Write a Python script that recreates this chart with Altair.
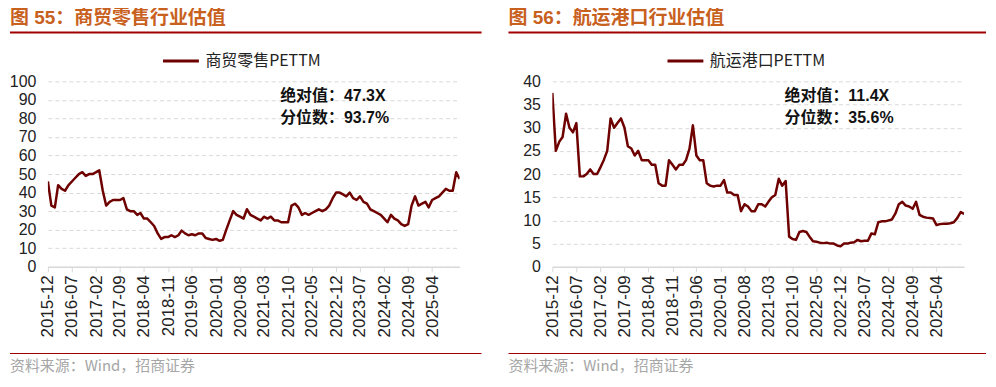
import altair as alt
import pandas as pd

# ---------------- data ----------------
START = "2015-12-01"
tick_labels = ["2015-12", "2016-07", "2017-02", "2017-09", "2018-04", "2018-11",
               "2019-06", "2020-01", "2020-08", "2021-03", "2021-10", "2022-05",
               "2022-12", "2023-07", "2024-02", "2024-09", "2025-04"]

retail_name = "商贸零售PETTM"
retail_values = [46, 33, 32, 44, 42, 41, 44, 46, 48, 50, 51, 49, 50, 50, 51, 52, 41, 33,
                 35, 36, 36, 36, 37, 31, 30, 30, 28, 29, 26, 26, 24, 22, 18, 15, 16, 16,
                 17, 16, 17, 19.5, 18, 17, 17.5, 17, 18, 18, 15.5, 15, 14.5, 15, 14, 14.5,
                 20, 25, 30, 28, 27, 26, 31, 28, 27, 26, 25, 27, 26, 27, 25, 25, 24, 24,
                 24, 33, 34, 32, 28, 29, 28, 29, 30, 31, 30, 31, 33, 37, 40, 40, 39, 38,
                 40, 37, 36, 38, 35, 34, 31, 30, 29, 28, 26, 24, 28, 26, 25, 23, 22, 23,
                 33, 38, 33, 34, 35, 32, 36, 37, 38, 40, 42, 41, 41, 51, 47.3]
retail_abs = "绝对值：47.3X"
retail_pct = "分位数：93.7%"
retail_title = "图 55：商贸零售行业估值"

ship_name = "航运港口PETTM"
ship_values = [37.5, 25, 27, 28, 33, 30, 29, 31, 19.5, 19.5, 20, 21, 20, 20, 21.5, 23, 25,
               32, 30, 31, 32, 30, 26, 25.5, 24, 25, 23, 23, 23, 22, 22, 18, 17.5, 17.5,
               23, 22, 21, 22, 22, 23, 25.5, 30.5, 24, 23, 23, 18, 17.5, 17.3, 17.5, 17.5,
               18.7, 16, 16, 15.5, 15.5, 12, 13.5, 13, 12, 12, 13.5, 13.5, 13, 14, 15,
               15.5, 19, 17.5, 18.5, 6.5, 6, 5.8, 7.5, 7.7, 7.5, 6.5, 5.5, 5.4, 5.2, 5.1,
               5.2, 5, 5, 4.6, 4.4, 5, 5, 5.2, 5.3, 5.8, 5.5, 5.6, 5.6, 7.2, 7, 9.6, 9.8,
               9.8, 10, 10.2, 11.5, 13.5, 14, 13.2, 13, 12.5, 14, 11.2, 10.8, 10.6, 10.5,
               10.4, 9, 9.2, 9.3, 9.3, 9.4, 9.6, 10.5, 11.8, 11.4]
ship_abs = "绝对值：11.4X"
ship_pct = "分位数：35.6%"
ship_title = "图 56：航运港口行业估值"

source_text = "资料来源：Wind，招商证券"

# ---------------- styles ----------------
LINE = "#6E0000"
TITLE_C = "#C8601E"
RULE_C = "#A00000"
GRID_C = "#D9D9D9"
FONT = "Liberation Sans, Arial, Noto Sans CJK SC"
CJK = "Noto Sans CJK SC"
W, H = 413, 186


def dt(label):
    return alt.DateTime(year=int(label[:4]), month=int(label[5:7]), date=1, utc=True)


def frame(values, name):
    dates = pd.date_range(START, periods=len(values), freq="MS").strftime("%Y-%m-%d")
    return pd.DataFrame({"date": dates, "value": values, "series": name})


one = alt.Data(values=[{}])


def panel(values, name, ymax, ystep, abs_txt, pct_txt, title, left_ext, right_ext):
    df = frame(values, name)
    line = alt.Chart(df).mark_line(strokeWidth=2.5, clip=True, strokeJoin="round").encode(
        x=alt.X("date:T",
                scale=alt.Scale(type="utc", domain=[dt("2015-12"), dt("2025-12")]),
                axis=alt.Axis(values=[dt(t) for t in tick_labels],
                              labelExpr="utcFormat(datum.value, '%Y-%m')",
                              labelAngle=270, labelFontSize=17,
                              labelColor="#222222", labelFont=FONT, labelOverlap=False,
                              labelPadding=3, tickSize=5, tickColor=GRID_C,
                              domainColor=GRID_C, domainWidth=1.5, grid=False, title=None)),
        y=alt.Y("value:Q",
                scale=alt.Scale(domain=[0, ymax], nice=False, zero=True),
                axis=alt.Axis(values=list(range(0, ymax + 1, ystep)), labelFontSize=16,
                              labelColor="#222222", labelFont=FONT, labelPadding=12,
                              ticks=False, domain=False, grid=True, gridColor=GRID_C,
                              gridDash=[4, 3], gridWidth=1, title=None)),
        color=alt.Color("series:N",
                        scale=alt.Scale(domain=[name], range=[LINE]),
                        legend=alt.Legend(orient="none", legendX=114, legendY=-40,
                                          title=None, symbolType="stroke", symbolSize=1296,
                                          symbolStrokeWidth=3, labelFontSize=16,
                                          labelFont=CJK, labelColor="#222222",
                                          labelOffset=5, padding=0)),
    )
    txt_abs = alt.Chart(one).mark_text(text=abs_txt, align="left", baseline="middle",
                                       fontSize=16, fontWeight="bold", font=FONT,
                                       color="#111111").encode(
        x=alt.value(233), y=alt.value(15))
    txt_pct = alt.Chart(one).mark_text(text=pct_txt, align="left", baseline="middle",
                                       fontSize=16, fontWeight="bold", font=FONT,
                                       color="#111111").encode(
        x=alt.value(233), y=alt.value(37))
    ttl = alt.Chart(one).mark_text(text=title, align="left", baseline="middle",
                                   fontSize=19, fontWeight="bold", font=FONT,
                                   color=TITLE_C).encode(
        x=alt.value(left_ext), y=alt.value(-64))
    top_rule = alt.Chart(one).mark_rule(color=RULE_C, strokeWidth=2.2).encode(
        x=alt.value(left_ext), x2=alt.value(W + right_ext), y=alt.value(-49))
    bot_rule = alt.Chart(one).mark_rule(color=RULE_C, strokeWidth=1.2).encode(
        x=alt.value(left_ext), x2=alt.value(W + right_ext), y=alt.value(273))
    src = alt.Chart(one).mark_text(text=source_text, align="left", baseline="middle",
                                   fontSize=15, font=CJK, color="#A6A6A6").encode(
        x=alt.value(left_ext), y=alt.value(286))
    return alt.layer(line, txt_abs, txt_pct, ttl, top_rule, bot_rule, src).properties(
        width=W, height=H)


left = panel(retail_values, retail_name, 100, 10, retail_abs, retail_pct, retail_title, -38, 22)
right = panel(ship_values, ship_name, 40, 5, ship_abs, ship_pct, ship_title, -44, 22)

chart = alt.hconcat(left, right, spacing=23).resolve_scale(color="independent").resolve_legend(
    color="independent").properties(padding=0).configure_view(stroke=None)

chart.save("out.html", embed_options={"renderer": "svg", "actions": False})
